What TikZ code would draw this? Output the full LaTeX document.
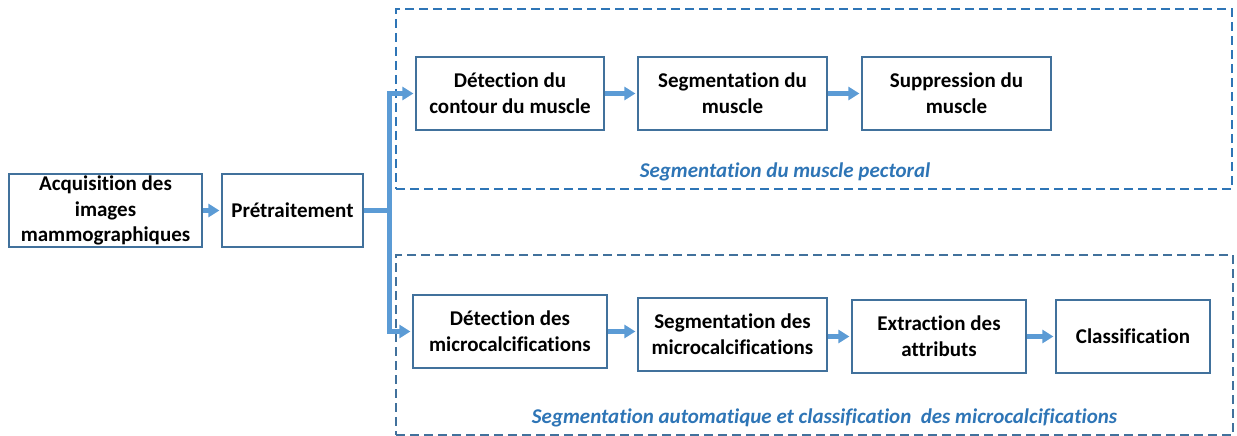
\documentclass[tikz,border=0pt]{standalone}
\usepackage{fontspec}
\setmainfont{Carlito}[Ligatures=CommonOff]
\usetikzlibrary{arrows.meta}
\definecolor{boxline}{HTML}{41719C}
\definecolor{flow}{HTML}{5B9BD5}
\definecolor{groupA}{HTML}{2E75B6}
\definecolor{groupB}{HTML}{41719C}
\begin{document}
\begin{tikzpicture}[x=1pt,y=-1pt,
  stage/.style={draw=boxline, line width=1.2pt, fill=white, align=center,
    font=\fontsize{21}{25.6}\selectfont\bfseries, inner sep=0pt, minimum height=73pt},
  flowarrow/.style={draw=flow, line width=5pt, line join=miter,
    -{Triangle[length=11pt,width=13pt]}, shorten >=2pt},
  group/.style={dash pattern=on 9pt off 5pt, line width=2pt, inner sep=0pt},
  grouplabel/.style={text=groupA, inner sep=0pt,
    font=\fontsize{21}{25.6}\selectfont\bfseries\itshape}]
\useasboundingbox (0,0) rectangle (1237,436);

% dashed group frames
\node[group, draw=groupA, minimum width=836pt, minimum height=180pt] (grpMuscle) at (814,99) {};
\node[group, draw=groupB, minimum width=837pt, minimum height=180pt] (grpMicro) at (814.5,345) {};
\node[grouplabel] (lblMuscle) at (785,172) {Segmentation du muscle pectoral};
\node[grouplabel] (lblMicro) at (824.5,418) {Segmentation automatique et classification\ \ des microcalcifications};

% processing stages
\node[stage, minimum width=193pt] (acq) at (105.5,210.5) {Acquisition des\\images\\mammographiques};
\node[stage, minimum width=141pt] (pre) at (292.5,210.5) {Prétraitement};

\node[stage, minimum width=188pt] (t1) at (510,93.5) {Détection du\\contour du muscle};
\node[stage, minimum width=189pt] (t2) at (732.5,93.5) {Segmentation du\\muscle};
\node[stage, minimum width=189pt] (t3) at (956.5,93.5) {Suppression du\\muscle};

\node[stage, minimum width=194pt] (b1) at (510,331.5) {Détection des\\microcalcifications};
\node[stage, minimum width=189pt] (b2) at (732.5,334.5) {Segmentation des\\microcalcifications};
\node[stage, minimum width=174pt] (b3) at (939,336.5) {Extraction des\\attributs};
\node[stage, minimum width=154pt] (b4) at (1133,336.5) {Classification};

% flow connectors
\coordinate (split) at (389,210.5);
\draw[flowarrow] (acq.east) -- (pre.west);
\draw[flowarrow] (pre.east) -- (split) |- (t1.west);
\draw[flowarrow] (split) |- (b1.west);
\draw[flowarrow] (t1.east) -- (t2.west);
\draw[flowarrow] (t2.east) -- (t3.west);
\draw[flowarrow] (b1.east) -- (b1.east -| b2.west);
\draw[flowarrow] (b2.east |- b3.west) -- (b3.west);
\draw[flowarrow] (b3.east) -- (b4.west);
\end{tikzpicture}
\end{document}
